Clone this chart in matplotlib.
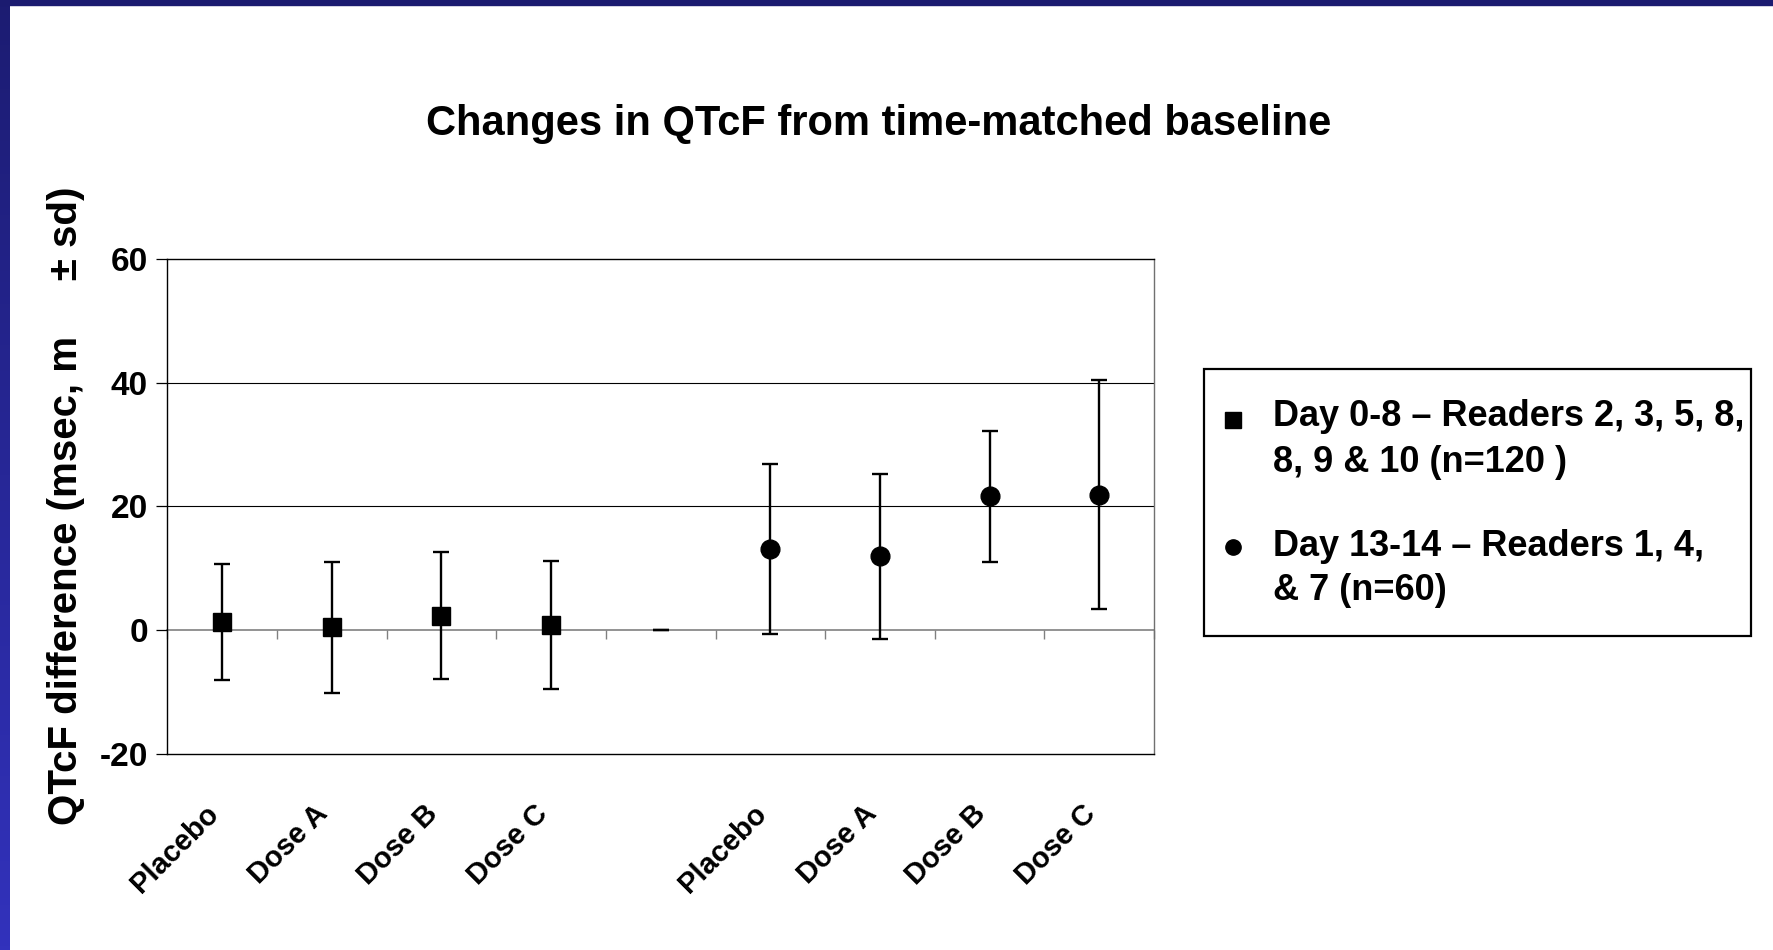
import numpy as np
import matplotlib
matplotlib.use("Agg")
import matplotlib.pyplot as plt
from matplotlib.patches import Rectangle
from matplotlib.lines import Line2D
from matplotlib.transforms import ScaledTranslation
from matplotlib.colors import LinearSegmentedColormap

plt.rcParams['font.family'] = ['Liberation Sans', 'DejaVu Sans']
plt.rcParams['font.weight'] = 'bold'

# ---- data ----
categories = ["Placebo", "Dose A", "Dose B", "Dose C", "",
              "Placebo", "Dose A", "Dose B", "Dose C"]
day08_mean = [1.3, 0.4, 2.3, 0.8]
day08_sd = [9.4, 10.6, 10.3, 10.4]
gap_mean = [0.0]
gap_sd = [0.0]
day1314_mean = [13.1, 11.9, 21.6, 21.9]
day1314_sd = [13.7, 13.3, 10.6, 18.5]
yticks = [-20, 0, 20, 40, 60]
legend_day08 = ["Day 0-8 \u2013 Readers 2, 3, 5, 8,", "8, 9 & 10 (n=120 )"]
legend_day1314 = ["Day 13-14 \u2013 Readers 1, 4,", "& 7 (n=60)"]

W, H = 1774, 950
fig = plt.figure(figsize=(W / 100, H / 100), dpi=100)
fig.patch.set_facecolor("white")

# ---- blue frame (left gradient + top band) ----
bax = fig.add_axes([0, 0, 10 / W, 1])
grad = np.linspace(0, 1, 256).reshape(-1, 1)
cmap = LinearSegmentedColormap.from_list("b", ["#1c1c72", "#3232bc"])
bax.imshow(grad, aspect="auto", cmap=cmap, extent=[0, 1, 0, 1], origin="upper")
bax.axis("off")
fig.add_artist(Rectangle((0, 1 - 5 / H), 1, 5 / H, transform=fig.transFigure,
                         color="#1b1b70", zorder=10))

# ---- main axes ----
ax = fig.add_axes([167.4 / W, 1 - 753.5 / H, (1154 - 167.4) / W, (753.5 - 259) / H])
x = np.arange(len(categories))
x08 = x[:4]
xgap = x[4:5]
x1314 = x[5:]

err_kw = dict(ecolor="black", elinewidth=1.7, capsize=5.5, capthick=1.7,
              linestyle="none", color="black", zorder=5)
ax.errorbar(x08, day08_mean, yerr=day08_sd, marker="s", markersize=13, **err_kw)
ax.errorbar(xgap, gap_mean, yerr=gap_sd, marker="none", **err_kw)
ax.errorbar(x1314, day1314_mean, yerr=day1314_sd, marker="o", markersize=13.5, **err_kw)

ax.set_xlim(-0.5, len(categories) - 0.5)
ax.set_ylim(min(yticks), max(yticks))
ax.set_yticks(yticks)
ax.set_yticklabels([str(v) for v in yticks], fontsize=24, fontweight="bold")
ax.tick_params(axis="y", direction="out", length=8, width=0.9, color="black", pad=6)

for yv in yticks[1:-1]:
    if yv != 0:
        ax.axhline(yv, color="black", linewidth=0.8, zorder=1)

ax.set_xticks(x)
ax.set_xticklabels(categories, fontsize=21, fontweight="bold", rotation=45,
                   ha="right", va="center", rotation_mode="anchor")
ax.tick_params(axis="x", length=0, pad=40)
off = ScaledTranslation(-8 / 100, 0, fig.dpi_scale_trans)
for lab in ax.get_xticklabels():
    lab.set_transform(lab.get_transform() + off)

for s in ["left", "bottom", "top"]:
    ax.spines[s].set_color("black")
    ax.spines[s].set_linewidth(1.0)
ax.spines["right"].set_color("#707070")
ax.spines["right"].set_linewidth(1.0)

# category axis crossing at y = 0
y0 = (0 - min(yticks)) / (max(yticks) - min(yticks))
sec = ax.secondary_xaxis(y0)
sec.set_xticks(np.arange(-0.5, len(categories), 1.0))
sec.set_xticklabels([])
sec.tick_params(axis="x", direction="out", length=6.5, width=1.0, color="#808080")
sec.spines["bottom"].set_color("#808080")
sec.spines["bottom"].set_linewidth(1.2)

# ---- texts ----
fig.text(879 / W, 1 - 124.5 / H, "Changes in QTcF from time-matched baseline",
         ha="center", va="center", fontsize=30, fontweight="bold")
fig.text(65.6 / W, 1 - 506 / H, "QTcF difference (msec, m     \u00b1 sd)",
         rotation=90, ha="center", va="center", fontsize=29, fontweight="bold")

# ---- legend box ----
fig.add_artist(Rectangle((1204 / W, 1 - 636 / H), (1751.5 - 1204) / W, (636 - 369) / H,
                         transform=fig.transFigure, facecolor="white",
                         edgecolor="black", linewidth=1.6))
tx = 1273 / W
line_y = [416.4, 462.7, 546.5, 590.6]
for txt, yy in zip(legend_day08 + legend_day1314, line_y):
    fig.text(tx, 1 - yy / H, txt, ha="left", va="center", fontsize=26, fontweight="bold")
fig.add_artist(Line2D([1233 / W], [1 - 420 / H], marker="s", markersize=11,
                      color="black", linestyle="none", transform=fig.transFigure))
fig.add_artist(Line2D([1233 / W], [1 - 547 / H], marker="o", markersize=11,
                      color="black", linestyle="none", transform=fig.transFigure))

fig.savefig("out.png", dpi=100)
